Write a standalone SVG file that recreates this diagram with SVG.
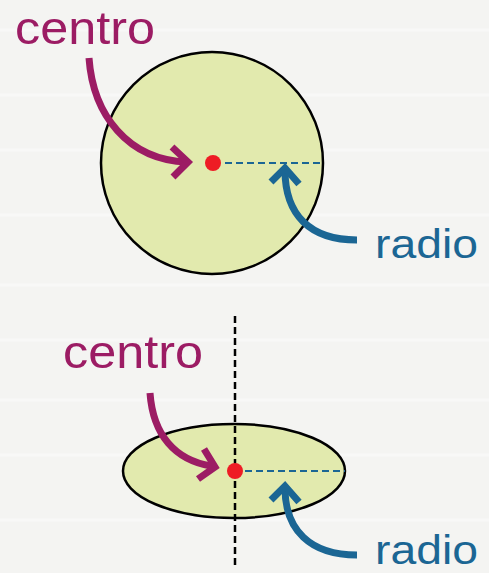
<svg xmlns="http://www.w3.org/2000/svg" width="489" height="573" viewBox="0 0 489 573">
<style>
.bg{fill:#f4f4f2}
.stripe{stroke:#f8f8f7;stroke-width:3}
.shape{fill:#e2eaae;stroke:#000;stroke-width:2.5}
.dot{fill:#ee1c24}
.radius{stroke:#1b6694;stroke-width:2;stroke-dasharray:7 4;fill:none}
.axis{stroke:#000;stroke-width:2.5;stroke-dasharray:7 4;fill:none}
.mag{stroke:#9c1c64;stroke-width:7;fill:none;stroke-linejoin:miter}
.blu{stroke:#1b6694;stroke-width:7;fill:none;stroke-linejoin:miter}
.lblc{font-family:"Liberation Sans",Arial,sans-serif;font-size:46px;fill:#9c1c64}
.lblr{font-family:"Liberation Sans",Arial,sans-serif;font-size:40px;fill:#1b6694}
</style>
<rect class="bg" x="0" y="0" width="489" height="573"/>
<g id="paper">
<line class="stripe" x1="0" y1="30" x2="489" y2="30"/>
<line class="stripe" x1="0" y1="95" x2="489" y2="95"/>
<line class="stripe" x1="0" y1="150" x2="489" y2="150"/>
<line class="stripe" x1="0" y1="215" x2="489" y2="215"/>
<line class="stripe" x1="0" y1="285" x2="489" y2="285"/>
<line class="stripe" x1="0" y1="340" x2="489" y2="340"/>
<line class="stripe" x1="0" y1="400" x2="489" y2="400"/>
<line class="stripe" x1="0" y1="455" x2="489" y2="455"/>
<line class="stripe" x1="0" y1="520" x2="489" y2="520"/>
</g>
<g id="circle">
<circle class="shape" cx="212" cy="163" r="111"/>
</g>
<g id="ellipse">
<ellipse class="shape" cx="234" cy="471" rx="111" ry="47"/>
</g>
<g id="connectors">
<line class="radius" x1="225" y1="163" x2="323" y2="163"/>
<line class="axis" x1="235" y1="316" x2="235" y2="568"/>
<line class="radius" x1="245" y1="471" x2="345" y2="471"/>
<path class="mag" d="M89,58 C93,115 128,160 187,162"/>
<polyline class="mag" points="172,147 188,162 173,177"/>
<path class="blu" d="M285,170 C285,215 310,240 357,240"/>
<polyline class="blu" points="271,182 285,168 299,184"/>
<path class="mag" d="M150,393 C153,435 175,460 211,466"/>
<polyline class="mag" points="204,449 215,467 198,479"/>
<path class="blu" d="M285,488 C285,530 310,555 357,555"/>
<polyline class="blu" points="271,500 285,486 299,502"/>
</g>
<g id="centers">
<circle class="dot" cx="213" cy="163" r="8"/>
<circle class="dot" cx="235" cy="471" r="8"/>
</g>
<g id="labels">
<text class="lblc" x="15" y="44" textLength="140" lengthAdjust="spacingAndGlyphs">centro</text>
<text class="lblr" x="375" y="258" textLength="103" lengthAdjust="spacingAndGlyphs">radio</text>
<text class="lblc" x="63" y="368" textLength="140" lengthAdjust="spacingAndGlyphs">centro</text>
<text class="lblr" x="375" y="564" textLength="103" lengthAdjust="spacingAndGlyphs">radio</text>
</g>
</svg>
